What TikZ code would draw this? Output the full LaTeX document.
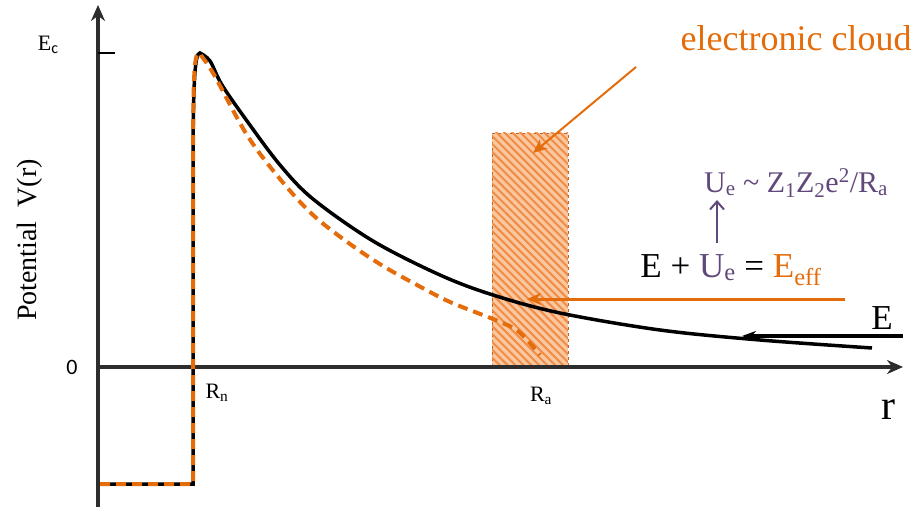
\documentclass[tikz,border=0pt]{standalone}
\usepackage{fontspec}
\setmainfont{Liberation Serif}
\newfontfamily\numfont{Carlito}
\usetikzlibrary{arrows.meta,patterns.meta}
\definecolor{cloudorange}{RGB}{228,108,10}
\definecolor{cloudfill}{RGB}{250,200,160}
\definecolor{cloudhatch}{RGB}{240,140,70}
\definecolor{cloudedge}{RGB}{190,100,40}
\definecolor{screenpurple}{RGB}{96,73,122}
\definecolor{axisgray}{RGB}{45,45,45}
\begin{document}
\begin{tikzpicture}[x=1pt,y=1pt,
  axisline/.style={line width=4pt,axisgray,-{Stealth[length=16pt,width=14pt]}},
  bare/.style={line width=3.5pt,black},
  screened/.style={line width=4pt,cloudorange,dash pattern=on 10pt off 6pt},
  pointer/.style={line width=3pt,-{Stealth[length=14pt,width=12pt]}}]
\useasboundingbox (0,0) rectangle (920,507);

% electronic cloud region
\filldraw[fill=cloudfill,draw=cloudedge,line width=0.8pt,dashed] (492,140) rectangle (568,374);
\fill[pattern={Lines[angle=-45,distance=5.6pt,line width=2pt]},pattern color=cloudhatch] (492,140) rectangle (568,374);

% axes
\draw[axisline] (98,0) -- (98,502);
\draw[axisline] (98,140) -- (903,140);
\draw[line width=1.5pt] (98,454) -- (115,454);

% bare Coulomb potential
\draw[bare] (100,23) -- (193,23) -- (193,330) .. controls (193,430) and (195,454) .. (200,454)
  -- plot[smooth,tension=0.55] coordinates {(200,454) (210,446) (222,422) (247,386) (280,342)
  (313,308) (373,266) (440,232) (493,212) (560,194) (660,177) (760,167) (872,159)};
% screened potential
\draw[screened] (100,23) -- (193,23) -- (193,330) .. controls (193,430) and (194,454) .. (199,454)
  -- plot[smooth,tension=0.55] coordinates {(199,454) (213,434) (247,372) (280,328) (313,292)
  (350,263) (383,241) (417,222) (450,205) (493,188) (515,178) (528,166) (540,152)};

% labels on the axes
\node at (48,462) {\fontsize{22}{26}\selectfont E\raisebox{-0.35ex}{\numfont\fontsize{16}{18}\selectfont c}};
\node[rotate=90] at (30,267) {\fontsize{28}{32}\selectfont Potential\ \ V(r)};
\node at (72,140) {\numfont\fontsize{22}{26}\selectfont 0};
\node at (217,114) {\fontsize{22}{26}\selectfont R\textsubscript{n}};
\node at (541,111) {\fontsize{22}{26}\selectfont R\textsubscript{a}};
\node at (888,97) {\fontsize{42}{48}\selectfont r};

% energies
\coordinate (cloudtail) at (636,440);
\coordinate (cloudhead) at (533,354);
\coordinate (efftail) at (845,208);
\coordinate (effhead) at (527,208);
\coordinate (etail) at (903,171);
\coordinate (ehead) at (742,171);
\coordinate (uetail) at (717,264);
\coordinate (uehead) at (717,307);
\draw[pointer,cloudorange,line width=2pt] (cloudtail) -- (cloudhead);
\draw[pointer,cloudorange] (efftail) -- (effhead);
\draw[pointer,black,line width=3.5pt,-{Stealth[length=14pt,width=10pt]}] (etail) -- (ehead);
\draw[screenpurple,line width=2pt,-{Straight Barb[length=8pt,width=14pt]}] (uetail) -- (uehead);

\node (cloud) at (796,469) {\fontsize{36}{40}\selectfont\color{cloudorange}electronic cloud};
\node (e) at (882,189) {\fontsize{35}{40}\selectfont E};
\node[anchor=base] (eeff) at (731,230) {\fontsize{35}{40}\selectfont E + \textcolor{screenpurple}{U\textsubscript{e}} = \textcolor{cloudorange}{E\textsubscript{eff}}};
\node[anchor=base] (ue) at (796,315) {\fontsize{30}{34}\selectfont\color{screenpurple}U\textsubscript{e} \char`\~{} Z\textsubscript{1}Z\textsubscript{2}e\textsuperscript{2}/R\textsubscript{a}};
\end{tikzpicture}
\end{document}
